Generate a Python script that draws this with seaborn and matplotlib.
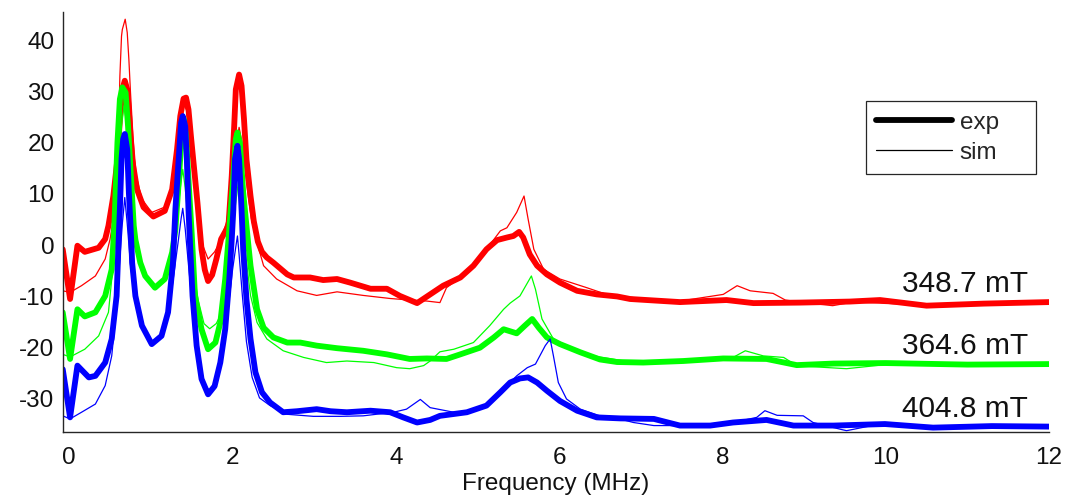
import numpy as np
import pandas as pd
import seaborn as sns
import matplotlib
matplotlib.use("Agg")
import matplotlib.pyplot as plt
from matplotlib.lines import Line2D

# ---- spectra: 348.7 mT (red) ----
red_exp_f = [-0.08, 0.01, 0.10, 0.19, 0.36, 0.44, 0.48, 0.54, 0.59, 0.62, 0.65, 0.68, 0.71, 0.74,
             0.77, 0.83, 0.91, 1.03, 1.17, 1.26, 1.32, 1.36, 1.40, 1.43, 1.46, 1.49, 1.53, 1.57,
             1.62, 1.66, 1.70, 1.75, 1.80, 1.86, 1.95, 1.99, 2.02, 2.04, 2.08, 2.11, 2.14, 2.17,
             2.22, 2.26, 2.31, 2.36, 2.42, 2.50, 2.67, 2.75, 2.95, 3.11, 3.28, 3.44, 3.69, 3.89,
             4.05, 4.26, 4.42, 4.58, 4.79, 4.95, 5.11, 5.24, 5.36, 5.44, 5.51, 5.56, 5.64, 5.73,
             5.85, 6.01, 6.22, 6.46, 6.71, 6.87, 7.48, 8.05, 8.38, 8.95, 9.56, 9.93, 10.50, 11.20,
             12.00]
red_exp_v = [-1.0, -10.7, -0.3, -1.5, -0.7, 1.0, 3.6, 9.4, 16.6, 24.4, 30.2, 31.9, 30.2, 23.7,
             16.6, 10.7, 7.2, 5.4, 6.5, 10.7, 18.5, 25.0, 28.4, 28.6, 26.3, 21.1, 14.6, 8.1,
             -1.0, -5.0, -7.2, -6.0, -3.0, 1.0, 3.6, 13.3, 23.0, 30.2, 33.1, 30.9, 24.4, 16.6,
             9.4, 4.5, 0.5, -1.5, -2.6, -3.6, -5.9, -6.5, -6.5, -7.0, -6.8, -7.5, -8.7, -8.7,
             -10.1, -11.5, -9.8, -8.1, -6.5, -4.2, -1.0, 0.8, 1.3, 1.6, 2.4, 1.3, -2.0, -4.2,
             -5.9, -7.5, -9.1, -9.8, -10.2, -10.7, -11.3, -10.9, -11.5, -11.4, -11.2, -10.9, -12.0, -11.6,
             -11.3]

red_sim_f = [-0.08, 0.01, 0.15, 0.32, 0.44, 0.50, 0.56, 0.60, 0.62, 0.64, 0.65, 0.685, 0.71, 0.73,
             0.75, 0.78, 0.82, 0.89, 1.01, 1.21, 1.26, 1.32, 1.36, 1.40, 1.44, 1.48, 1.53, 1.58,
             1.63, 1.70, 1.78, 1.85, 1.93, 1.99, 2.04, 2.08, 2.12, 2.17, 2.23, 2.30, 2.38, 2.54,
             2.79, 3.03, 3.28, 3.60, 3.93, 4.17, 4.38, 4.54, 4.62, 4.79, 4.95, 5.11, 5.28, 5.36,
             5.48, 5.57, 5.62, 5.69, 5.81, 6.01, 6.34, 6.58, 7.00, 7.48, 8.01, 8.18, 8.34, 8.62,
             8.77, 9.00, 9.35, 9.60, 10.50, 12.00]
red_sim_v = [-9.1, -9.4, -8.1, -6.2, -2.9, 1.0, 6.8, 19.8, 32.8, 40.6, 41.9, 43.9, 41.3, 36.1,
             29.6, 21.1, 13.3, 8.8, 6.2, 7.5, 10.5, 18.0, 24.0, 27.5, 26.0, 21.0, 13.0, 5.0,
             0.0, -2.9, -1.5, 0.5, 4.5, 12.0, 19.0, 22.8, 19.5, 12.0, 5.0, 0.3, -4.2, -6.8,
             -9.1, -10.0, -9.3, -10.0, -10.6, -10.9, -11.1, -11.4, -8.5, -6.5, -4.2, -1.0, 2.6, 3.2,
             6.2, 9.4, 4.9, -1.0, -4.9, -6.8, -8.5, -9.8, -10.6, -11.1, -9.8, -8.1, -9.1, -9.6,
             -10.9, -11.4, -12.0, -11.3, -11.9, -11.5]

# ---- spectra: 364.6 mT (green) ----
green_exp_f = [-0.08, 0.01, 0.10, 0.19, 0.32, 0.44, 0.52, 0.55, 0.56, 0.59, 0.62, 0.65, 0.69, 0.72,
               0.75, 0.79, 0.81, 0.87, 0.93, 1.05, 1.17, 1.26, 1.30, 1.34, 1.38, 1.40, 1.43, 1.47,
               1.50, 1.54, 1.62, 1.70, 1.79, 1.85, 1.91, 1.95, 2.01, 2.04, 2.06, 2.09, 2.13, 2.19,
               2.22, 2.30, 2.38, 2.50, 2.67, 2.83, 3.03, 3.28, 3.60, 3.89, 4.17, 4.38, 4.62, 4.79,
               5.03, 5.20, 5.32, 5.48, 5.58, 5.67, 5.75, 5.85, 6.01, 6.26, 6.50, 6.71, 7.03, 7.52,
               8.01, 8.54, 8.91, 9.36, 10.00, 11.00, 12.00]
green_exp_v = [-13.3, -22.4, -12.7, -14.1, -13.3, -10.1, -4.9, 2.9, 6.8, 19.8, 28.3, 30.6, 29.6, 23.0,
               14.6, 3.6, 0.9, -3.6, -6.2, -8.5, -6.8, -1.6, 2.9, 12.0, 22.0, 24.5, 21.0, 10.0,
               2.0, -10.1, -16.6, -20.5, -19.2, -15.3, -6.8, 0.9, 13.3, 20.5, 21.8, 19.8, 10.1, 0.4,
               -4.2, -12.7, -16.3, -18.2, -19.2, -19.2, -19.8, -20.3, -20.8, -21.5, -22.4, -22.3, -22.4, -21.5,
               -20.2, -18.2, -16.6, -17.4, -15.9, -14.6, -16.3, -18.2, -19.5, -21.1, -22.5, -23.0, -23.1, -22.8,
               -22.3, -22.4, -23.6, -23.3, -23.2, -23.5, -23.4]

green_sim_f = [-0.08, 0.01, 0.19, 0.36, 0.48, 0.54, 0.58, 0.61, 0.64, 0.67, 0.70, 0.73, 0.77, 0.82,
               0.90, 1.05, 1.18, 1.27, 1.32, 1.36, 1.39, 1.42, 1.46, 1.51, 1.58, 1.65, 1.72, 1.80,
               1.87, 1.93, 1.98, 2.03, 2.07, 2.11, 2.16, 2.22, 2.30, 2.42, 2.62, 2.87, 3.15, 3.40,
               3.73, 4.01, 4.17, 4.34, 4.42, 4.54, 4.71, 4.95, 5.15, 5.32, 5.40, 5.52, 5.66, 5.71,
               5.79, 5.93, 6.13, 6.42, 6.80, 7.50, 8.13, 8.28, 8.50, 8.75, 8.91, 9.20, 9.52, 10.00,
               12.00]
green_sim_v = [-21.5, -22.0, -20.5, -17.9, -13.3, -3.6, 6.0, 15.0, 23.0, 27.0, 24.0, 15.0, 5.0, -1.0,
               -5.5, -8.3, -6.5, -1.0, 5.0, 11.0, 14.6, 11.0, 4.0, -4.0, -11.0, -15.5, -16.5, -15.5,
               -13.3, -8.1, -1.0, 7.0, 12.0, 7.0, -2.0, -10.0, -15.3, -18.5, -20.8, -22.1, -23.1, -22.8,
               -23.1, -24.1, -24.3, -23.7, -22.8, -21.0, -20.5, -19.2, -15.9, -12.7, -11.5, -10.1, -6.2, -8.8,
               -14.6, -18.5, -20.2, -21.8, -22.8, -22.9, -22.1, -20.8, -21.8, -22.1, -23.7, -24.0, -24.3, -23.5,
               -23.6]

# ---- spectra: 404.8 mT (blue) ----
blue_exp_f = [-0.08, 0.01, 0.10, 0.24, 0.32, 0.44, 0.52, 0.58, 0.61, 0.62, 0.64, 0.66, 0.68, 0.71,
              0.73, 0.76, 0.77, 0.81, 0.89, 1.01, 1.13, 1.21, 1.27, 1.30, 1.34, 1.37, 1.39, 1.42,
              1.44, 1.46, 1.48, 1.51, 1.56, 1.62, 1.70, 1.78, 1.85, 1.91, 1.96, 1.99, 2.01, 2.03,
              2.06, 2.08, 2.11, 2.13, 2.17, 2.22, 2.28, 2.36, 2.46, 2.62, 2.79, 3.03, 3.20, 3.40,
              3.69, 3.93, 4.09, 4.26, 4.42, 4.54, 4.87, 5.11, 5.28, 5.40, 5.52, 5.62, 5.73, 5.85,
              6.01, 6.22, 6.46, 6.75, 7.16, 7.48, 7.85, 8.13, 8.54, 8.87, 9.36, 9.99, 10.58, 11.30,
              12.00]
blue_exp_v = [-24.4, -33.8, -23.7, -26.0, -25.7, -23.1, -18.5, -10.1, 2.9, 6.8, 16.6, 20.5, 21.5, 18.5,
              10.1, 0.4, -3.6, -10.1, -15.9, -19.5, -17.9, -13.3, -3.6, 6.8, 16.6, 23.7, 25.0, 23.0,
              16.6, 6.8, -0.3, -10.1, -19.8, -26.3, -29.3, -27.7, -23.1, -16.6, -6.8, 0.9, 6.8, 16.6,
              19.2, 16.6, 6.8, -1.0, -10.7, -18.5, -25.0, -28.9, -30.9, -32.8, -32.6, -32.2, -32.6, -32.8,
              -32.5, -32.8, -33.8, -34.8, -34.3, -33.5, -32.8, -31.5, -28.9, -27.0, -26.2, -26.0, -27.0, -28.6,
              -30.6, -32.5, -33.8, -34.0, -34.1, -35.4, -35.4, -34.8, -34.3, -35.4, -35.4, -35.1, -35.8, -35.5,
              -35.6]

blue_sim_f = [-0.08, 0.01, 0.15, 0.32, 0.44, 0.52, 0.57, 0.61, 0.65, 0.68, 0.71, 0.75, 0.80, 0.88,
              1.01, 1.13, 1.22, 1.28, 1.33, 1.37, 1.39, 1.42, 1.46, 1.52, 1.58, 1.66, 1.74, 1.82,
              1.89, 1.95, 2.00, 2.04, 2.06, 2.08, 2.12, 2.17, 2.24, 2.33, 2.46, 2.67, 2.99, 3.32,
              3.60, 3.97, 4.13, 4.30, 4.42, 4.71, 4.91, 5.11, 5.28, 5.48, 5.61, 5.71, 5.83, 5.89,
              5.93, 5.99, 6.09, 6.26, 6.50, 6.67, 6.91, 7.16, 7.48, 8.13, 8.42, 8.52, 8.67, 8.99,
              9.11, 9.44, 9.52, 9.80, 12.00]
blue_sim_v = [-33.5, -34.1, -32.8, -31.2, -27.6, -21.8, -14.0, -5.0, 4.0, 9.1, 4.0, -4.0, -10.0, -15.5,
              -19.2, -17.6, -13.0, -6.0, 0.0, 5.0, 7.0, 3.0, -4.0, -14.0, -22.0, -27.5, -29.0, -26.5,
              -20.0, -12.0, -5.0, -0.5, 1.6, -2.0, -10.0, -19.0, -26.0, -30.0, -31.5, -33.2, -33.6, -33.6,
              -33.5, -32.8, -32.2, -30.3, -31.9, -32.8, -32.8, -31.5, -28.9, -25.7, -24.1, -23.4, -19.8, -18.5,
              -21.8, -27.0, -30.2, -32.2, -33.5, -33.8, -34.8, -35.4, -35.4, -34.8, -33.8, -32.5, -33.4, -33.5,
              -34.8, -36.1, -36.4, -35.5, -35.6]

field_labels = ["348.7 mT", "364.6 mT", "404.8 mT"]
colors = ["#ff0000", "#00ff00", "#0000ff"]
x_ticks = [0, 2, 4, 6, 8, 10, 12]
y_ticks = [-30, -20, -10, 0, 10, 20, 30, 40]

series = [
    (red_exp_f, red_exp_v, red_sim_f, red_sim_v),
    (green_exp_f, green_exp_v, green_sim_f, green_sim_v),
    (blue_exp_f, blue_exp_v, blue_sim_f, blue_sim_v),
]

sns.set_style("white")
plt.rcParams["font.family"] = ["Liberation Sans", "DejaVu Sans"]

fig = plt.figure(figsize=(10.65, 5.02), dpi=100)
ax = fig.add_axes([0.0589, 0.138, 0.9261, 0.836])

for (ef, ev, sf, sv), col, lab in zip(series, colors, field_labels):
    exp_df = pd.DataFrame({"f": ef, "v": ev})
    sim_df = pd.DataFrame({"f": sf, "v": sv})
    sns.lineplot(data=exp_df, x="f", y="v", color=col, linewidth=4.2,
                 sort=False, estimator=None, ax=ax, solid_capstyle="round",
                 solid_joinstyle="round")
    sns.lineplot(data=sim_df, x="f", y="v", color=col, linewidth=0.9,
                 sort=False, estimator=None, ax=ax, solid_joinstyle="round")
    # field label sits just above the tail of the measured trace
    ax.text(11.74, ev[-1] + 2.1, lab, ha="right", va="baseline",
            fontsize=21.5, color="#111111")

ax.set_xlim(-0.08, 12.0)
ax.set_ylim(-36.6, 45.3)
ax.set_xticks(x_ticks)
ax.set_yticks(y_ticks)
ax.set_xticklabels([str(t) for t in x_ticks])
ax.set_yticklabels([str(t) for t in y_ticks])
ax.set_xlabel("Frequency (MHz)", fontsize=17.5, color="#111111", labelpad=3)
ax.set_ylabel("")

for side in ["top", "right"]:
    ax.spines[side].set_visible(False)
for side in ["left", "bottom"]:
    ax.spines[side].set_color("#262626")
    ax.spines[side].set_linewidth(1.0)

ax.tick_params(axis="both", direction="in", length=6.5, width=0.9,
               colors="#262626", labelsize=17.5, labelcolor="#111111")
ax.tick_params(axis="x", pad=10)
ax.tick_params(axis="y", pad=6)

handles = [Line2D([], [], color="black", linewidth=4.2),
           Line2D([], [], color="black", linewidth=0.9)]
leg = ax.legend(handles, ["exp", "sim"], loc="upper left", mode="expand",
                bbox_to_anchor=(0.8142, 0.6164, 0.1726, 0.1723),
                fontsize=17.5, frameon=True, fancybox=False, framealpha=1,
                edgecolor="#262626", handlelength=3.1, handletextpad=0.33,
                labelspacing=0.33, borderpad=0.43, borderaxespad=0)
leg.get_frame().set_linewidth(0.9)

fig.savefig("out.png", dpi=100)
